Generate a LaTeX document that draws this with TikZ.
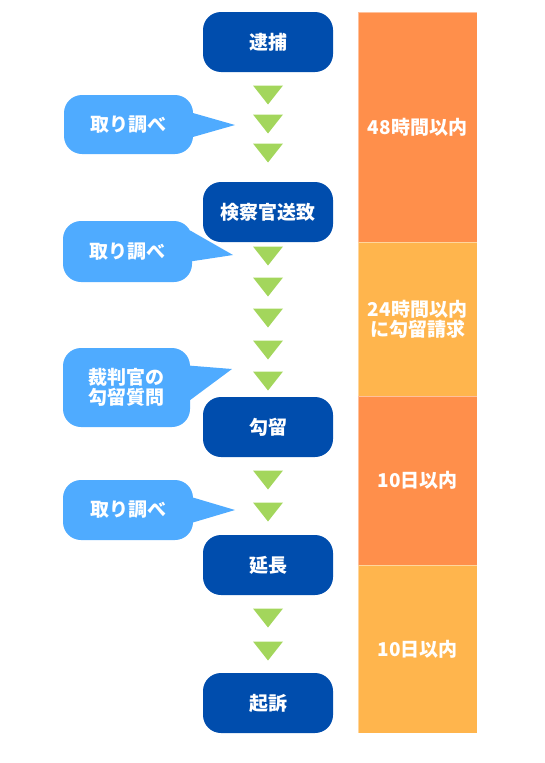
\documentclass[tikz,border=0pt]{standalone}
\usepackage{fontspec}
\setmainfont{Noto Sans CJK JP}
\usepackage{tikz}
\usetikzlibrary{positioning}
\usetikzlibrary{shapes}
\usetikzlibrary{calc}
\definecolor{stepblue}{HTML}{004DAD}
\definecolor{talkblue}{HTML}{4FABFF}
\definecolor{gogreen}{HTML}{A3D65C}
\definecolor{spanorange}{HTML}{FF8F4B}
\definecolor{spanyellow}{HTML}{FFB54D}
\tikzstyle{stepbox} = [fill=stepblue, text=white, rounded corners=18pt, minimum width=130pt, minimum height=60pt, inner sep=0pt, align=center, font=\fontsize{19}{20}\selectfont\bfseries]
\tikzstyle{talkbox} = [fill=talkblue, text=white, rounded corners=18pt, minimum width=130pt, minimum height=60pt, inner sep=0pt, align=center, font=\fontsize{19}{20}\selectfont\bfseries]
\tikzstyle{talktail} = [fill=talkblue]
\tikzstyle{spanbox} = [draw=white, draw opacity=0.45, line width=0.8pt, text=white, minimum width=119pt, inner sep=0pt, align=center, font=\fontsize{19}{20}\selectfont\bfseries]
\tikzstyle{gotri} = [fill=gogreen]

\begin{document}
\begin{tikzpicture}[x=1pt,y=-1pt]
                    \useasboundingbox (0,0) rectangle (545,763);
                    % steps
                    \node at (268,42)   [xshift=     0pt,yshift=     0pt,stepbox                                      ] (nArrest)  {逮捕};
                    \node at (nArrest)  [xshift=     0pt,yshift=  -170pt,stepbox                                      ] (nSend)    {検察官送致};
                    \node at (nSend)    [xshift=     0pt,yshift=  -215pt,stepbox                                      ] (nDetain)  {勾留};
                    \node at (nDetain)  [xshift=     0pt,yshift=  -138pt,stepbox                                      ] (nExtend)  {延長};
                    \node at (nExtend)  [xshift=     0pt,yshift=  -138pt,stepbox                                      ] (nIndict)  {起訴};
                    % time limits
                    \node at (nArrest)  [xshift= 149.5pt,yshift=   -85pt,spanbox,fill=spanorange,minimum height=230pt] (nSpanA)   {48時間以内};
                    \node at (nArrest)  [xshift= 149.5pt,yshift=  -277pt,spanbox,fill=spanyellow,minimum height=154pt] (nSpanB)   {24時間以内\\に勾留請求};
                    \node at (nArrest)  [xshift= 149.5pt,yshift=-438.5pt,spanbox,fill=spanorange,minimum height=169pt] (nSpanC)   {10日以内};
                    \node at (nArrest)  [xshift= 149.5pt,yshift=  -607pt,spanbox,fill=spanyellow,minimum height=168pt] (nSpanD)   {10日以内};
                    % callouts
                    \node at (nArrest)  [xshift=-139.5pt,yshift= -82.5pt,talkbox,minimum width=129pt,minimum height=59pt] (nTalkA)   {取り調べ};
                    \node at (nSend)    [xshift=-140.5pt,yshift= -39.5pt,talkbox,minimum width=129pt,minimum height=61pt] (nTalkB)   {取り調べ};
                    \node at (nDetain)  [xshift=-141.5pt,yshift=  39.5pt,talkbox,minimum width=127pt,minimum height=79pt] (nJudge)   {裁判官の\\勾留質問};
                    \node at (nDetain)  [xshift=  -140pt,yshift=   -83pt,talkbox                                      ] (nTalkC)   {取り調べ};
                    \coordinate (tTalkA) at (235,125);
                    \coordinate (tTalkB) at (233,255);
                    \coordinate (tJudge) at (232,369);
                    \coordinate (tTalkC) at (235,510);
                    \fill[talktail] ([xshift=-2pt,yshift= 12pt]nTalkA.east) -- (tTalkA) -- ([xshift=-2pt,yshift=-13pt]nTalkA.east) -- cycle;
                    \fill[talktail] ([xshift=-2pt,yshift= 21pt]nTalkB.east) -- (tTalkB) -- ([xshift=-2pt,yshift=-10pt]nTalkB.east) -- cycle;
                    \fill[talktail] ([xshift=-2pt,yshift= 22pt]nJudge.east) -- (tJudge) -- ([xshift=-2pt,yshift=-14pt]nJudge.east) -- cycle;
                    \fill[talktail] ([xshift=-2pt,yshift= 13pt]nTalkC.east) -- (tTalkC) -- ([xshift=-2pt,yshift=-13pt]nTalkC.east) -- cycle;
                    % down triangles
                    \foreach \ty in {95,124,153,256,287,318,350,381,480,512,618,651}
                        \fill[gotri] (253,\ty-9.5) -- (283,\ty-9.5) -- (268,\ty+9.5) -- cycle;
                \end{tikzpicture}
\end{document}
